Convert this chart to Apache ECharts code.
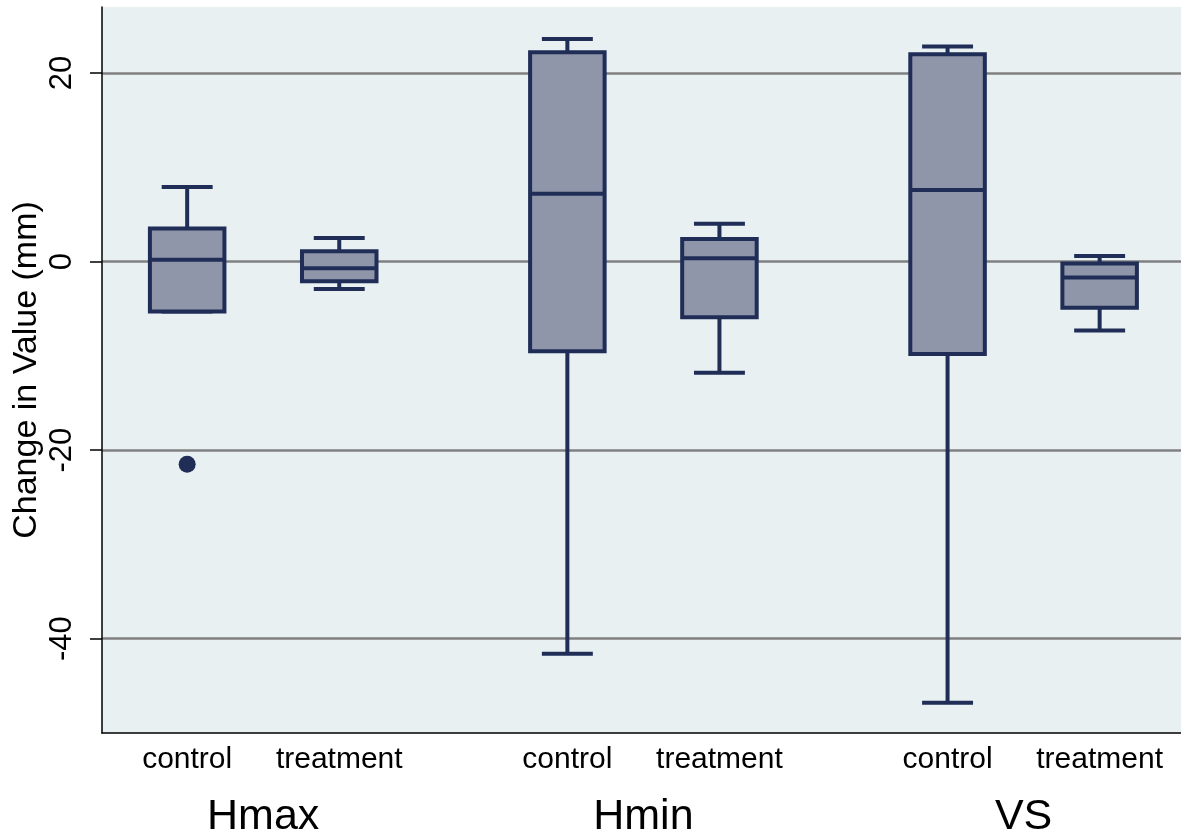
<!DOCTYPE html>
<html>
<head>
<meta charset="utf-8">
<script src="https://cdn.jsdelivr.net/npm/echarts@6/dist/echarts.min.js"></script>
<style>
html,body{margin:0;padding:0;background:#fff;}
#c{width:1181px;height:838px;}
</style>
</head>
<body>
<div id="c"></div>
<script>
// ---- data ----
const groups = ['Hmax', 'Hmin', 'VS'];
const conditions = ['control', 'treatment'];
// box statistics, order: Hmax control, Hmax treatment, Hmin control, Hmin treatment, VS control, VS treatment
const whiskerLow = [-5.3, -2.9, -41.6, -11.8, -46.8, -7.3];
const q1 = [-5.3, -2.1, -9.5, -5.9, -9.8, -4.9];
const medians = [0.2, -0.7, 7.2, 0.35, 7.6, -1.7];
const q3 = [3.5, 1.1, 22.2, 2.4, 22.0, -0.2];
const whiskerHigh = [7.9, 2.5, 23.6, 4.0, 22.8, 0.6];
const outlierBox = [0];
const outlierValues = [-21.5];
const yTicks = [-40, -20, 0, 20];

// ---- layout helpers (slot index on a value axis) ----
function slotOf(i) { const g = Math.floor(i / 2), c = i % 2; return g * 5 + c * 2 + 1; }
const boxSlots = whiskerLow.map((_, i) => slotOf(i));
const groupSlots = groups.map((_, g) => g * 5 + 2);
const boxLabels = boxSlots.map((_, i) => conditions[i % 2]);

const boxData = whiskerLow.map((v, i) => [boxSlots[i], v, q1[i], medians[i], q3[i], whiskerHigh[i]]);
const outlierData = outlierValues.map((v, k) => [boxSlots[outlierBox[k]], v]);

const BORDER = '#1f2d57';
const FILL = '#8f96a9';
const LW = 4;
const FONT = '"Liberation Sans", Arial, Helvetica, sans-serif';

const chart = echarts.init(document.getElementById('c'), null, {renderer: 'canvas'});

function renderBox(params, api) {
  const x = api.value(0);
  const lo = api.coord([x, api.value(1)]);
  const b1 = api.coord([x, api.value(2)]);
  const md = api.coord([x, api.value(3)]);
  const b3 = api.coord([x, api.value(4)]);
  const hi = api.coord([x, api.value(5)]);
  const bw = api.size([0.98, 0])[0];
  const cw = api.size([0.67, 0])[0];
  const cx = lo[0];
  const lineStyle = {stroke: BORDER, lineWidth: LW, fill: null};
  const children = [];
  children.push({type: 'line', shape: {x1: cx, y1: hi[1], x2: cx, y2: b3[1]}, style: lineStyle});
  children.push({type: 'line', shape: {x1: cx, y1: b1[1], x2: cx, y2: lo[1]}, style: lineStyle});
  children.push({type: 'line', shape: {x1: cx - cw / 2, y1: hi[1], x2: cx + cw / 2, y2: hi[1]}, style: lineStyle});
  children.push({type: 'line', shape: {x1: cx - cw / 2, y1: lo[1], x2: cx + cw / 2, y2: lo[1]}, style: lineStyle});
  children.push({type: 'rect', shape: {x: cx - bw / 2, y: b3[1], width: bw, height: b1[1] - b3[1]},
    style: {fill: FILL, stroke: BORDER, lineWidth: LW}});
  children.push({type: 'line', shape: {x1: cx - bw / 2, y1: md[1], x2: cx + bw / 2, y2: md[1]}, style: lineStyle});
  return {type: 'group', children: children};
}

const option = {
  animation: false,
  backgroundColor: '#ffffff',
  grid: {left: 102, right: 0, top: 7, bottom: 105, show: true, backgroundColor: '#e8f0f2', borderWidth: 0,
         containLabel: false, outerBoundsMode: 'none'},
  xAxis: [
    {
      type: 'value', min: -0.12, max: 14.07, position: 'bottom',
      axisLine: {show: true, onZero: false, lineStyle: {color: '#000', width: 1.5}},
      axisTick: {show: false},
      splitLine: {show: false},
      axisLabel: {
        customValues: boxSlots, margin: 12, color: '#000', fontSize: 30, fontFamily: FONT,
        formatter: function (v) { const i = boxSlots.indexOf(Math.round(v)); return i >= 0 ? boxLabels[i] : ''; }
      }
    },
    {
      type: 'value', min: -0.12, max: 14.07, position: 'bottom', offset: 0,
      axisLine: {show: false}, axisTick: {show: false}, splitLine: {show: false},
      axisLabel: {
        customValues: groupSlots, margin: 63, color: '#000', fontSize: 43, fontFamily: FONT,
        formatter: function (v) { const g = groupSlots.indexOf(Math.round(v)); return g >= 0 ? groups[g] : ''; }
      }
    }
  ],
  yAxis: {
    type: 'value', min: -50, max: 27,
    name: 'Change in Value (mm)', nameLocation: 'middle', nameGap: 58, nameMoveOverlap: false,
    nameTextStyle: {color: '#000', fontSize: 34, fontFamily: FONT},
    axisLine: {show: true, onZero: false, lineStyle: {color: '#000', width: 1.5}},
    axisTick: {show: true, customValues: yTicks, length: 12, lineStyle: {color: '#000', width: 1.5}},
    axisLabel: {customValues: yTicks, rotate: 90, margin: 24, color: '#000', fontSize: 31, fontFamily: FONT},
    splitLine: {show: true, lineStyle: {color: '#808080', width: 2.5}}
  },
  series: [
    {
      type: 'custom', xAxisIndex: 0, yAxisIndex: 0,
      renderItem: renderBox,
      encode: {x: 0, y: [1, 2, 3, 4, 5]},
      data: boxData, z: 3
    },
    {
      type: 'scatter', xAxisIndex: 0, yAxisIndex: 0,
      symbol: 'circle', symbolSize: 17,
      itemStyle: {color: BORDER, opacity: 1},
      data: outlierData, z: 4
    }
  ]
};
chart.setOption(option);
</script>
</body>
</html>
